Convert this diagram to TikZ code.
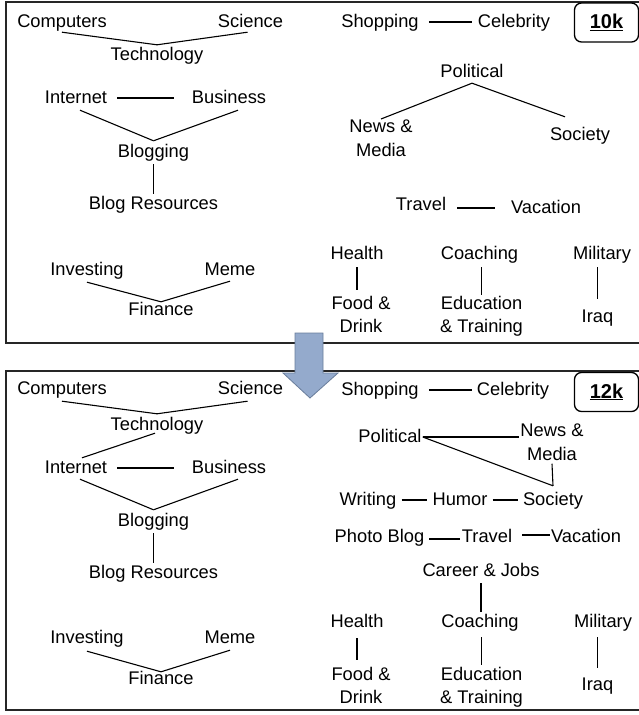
\documentclass[tikz,border=0pt]{standalone}
\usepackage{fontspec}
\setmainfont{Liberation Sans}
\definecolor{arrowfill}{RGB}{148,170,204}
\definecolor{arrowline}{RGB}{105,125,155}
\begin{document}
\begin{tikzpicture}[x=1pt,y=-1pt,
  lbl/.style={font=\fontsize{18.3}{23.5}\selectfont, inner sep=1pt, text height=14pt, text depth=4pt, anchor=base},
  ml/.style={font=\fontsize{18.3}{23.5}\selectfont, inner sep=1pt, align=center, anchor=north},
  box/.style={draw, rounded corners=7pt, line width=1.3pt, minimum width=64pt, minimum height=39pt, inner sep=0pt, font=\fontsize{20}{24}\selectfont\bfseries},
  frame/.style={draw=black!85, line width=1.3pt},
  conn/.style={draw, line width=1.1pt},
  blockarrow/.style={fill=arrowfill, draw=arrowline, line width=0.8pt}]
\useasboundingbox (0,0) rectangle (639,715);
% frames
\draw[frame] (6,2) rectangle (642,343);
\draw[frame] (6,371) rectangle (642,710);
% block arrow
\path[blockarrow] (295,333) -- (323,333) -- (323,373) -- (338,373) -- (310,398) -- (283,373) -- (295,373) -- cycle;

% ---------- top panel ----------
\node[lbl] (tComp) at (62,27) {Computers};
\node[lbl] (tSci) at (250.5,27) {Science};
\node[lbl] (tTech) at (157,60) {Technology};
\node[lbl] (tInt) at (76,103) {Internet};
\node[lbl] (tBus) at (229,103) {Business};
\node[lbl] (tBlog) at (153.5,157) {Blogging};
\node[lbl] (tBR) at (153.5,209) {Blog Resources};
\node[lbl] (tInv) at (87,275) {Investing};
\node[lbl] (tMeme) at (230,275) {Meme};
\node[lbl] (tFin) at (161,315) {Finance};
\node[lbl] (tShop) at (380,27) {Shopping};
\node[lbl] (tCeleb) at (514,27) {Celebrity};
\node[box] (tK) at (606.5,22.5) {\underline{10k}};
\node[lbl] (tPol) at (472,77) {Political};
\node[ml] (tNM) at (381,119) {News \&\\Media};
\node[lbl] (tSoc) at (580,140) {Society};
\node[lbl] (tTrav) at (421,210) {Travel};
\node[lbl] (tVac) at (546,213) {Vacation};
\node[lbl] (tHealth) at (357,259) {Health};
\node[ml] (tFD) at (361,295) {Food \&\\Drink};
\node[lbl] (tCoach) at (479.5,259) {Coaching};
\node[ml] (tEdu) at (481.5,295) {Education\\\& Training};
\node[lbl] (tMil) at (602,259) {Military};
\node[lbl] (tIraq) at (597.5,322) {Iraq};

\draw[conn] (tComp.south) -- (tTech.north);
\draw[conn] ([xshift=-3pt]tSci.south) -- (tTech.north);
\draw[conn, shorten <=9pt, shorten >=17pt] (tInt.east) -- (tBus.west);
\draw[conn] ([xshift=4pt,yshift=-2pt]tInt.south) -- ([yshift=1pt]tBlog.north);
\draw[conn] ([xshift=9pt,yshift=-2pt]tBus.south) -- ([yshift=1pt]tBlog.north);
\draw[conn] ([yshift=-2pt]tBlog.south) -- (tBR.north);
\draw[conn] ([yshift=-2pt]tInv.south) -- ([yshift=-2pt]tFin.north);
\draw[conn] ([yshift=-1pt]tMeme.south) -- ([yshift=-2pt]tFin.north);
\draw[conn, shorten <=9pt, shorten >=5pt] (tShop.east) -- (tCeleb.west);
\draw[conn] ([yshift=-1pt]tPol.south) -- (tNM.north);
\draw[conn] ([yshift=-1pt]tPol.south) -- ([xshift=-15pt,yshift=8pt]tSoc.north);
\draw[conn, shorten <=10pt, shorten >=15pt] (tTrav.east |- tVac.west) -- (tVac.west);
\draw[conn, shorten <=3pt, shorten >=5pt] (tHealth.south) -- (tHealth.south |- tFD.north);
\draw[conn, shorten <=3pt] (tEdu.north |- tCoach.south) -- (tEdu.north);
\draw[conn, shorten <=3pt, shorten >=8pt] (tIraq.north |- tMil.south) -- (tIraq.north);

% ---------- bottom panel ----------
\node[lbl] (bComp) at (62,394) {Computers};
\node[lbl] (bSci) at (250.5,394) {Science};
\node[lbl] (bTech) at (157,430) {Technology};
\node[lbl] (bInt) at (76,473) {Internet};
\node[lbl] (bBus) at (229,473) {Business};
\node[lbl] (bBlog) at (153.5,526) {Blogging};
\node[lbl] (bBR) at (153.5,578) {Blog Resources};
\node[lbl] (bInv) at (87,643) {Investing};
\node[lbl] (bMeme) at (230,643) {Meme};
\node[lbl] (bFin) at (161,684) {Finance};
\node[lbl] (bShop) at (380,395) {Shopping};
\node[lbl] (bCeleb) at (513,395) {Celebrity};
\node[box] (bK) at (606.5,392) {\underline{12k}};
\node[lbl] (bPol) at (390,442) {Political};
\node[ml] (bNM) at (552,423) {News \&\\Media};
\node[lbl] (bWrit) at (368,505) {Writing};
\node[lbl] (bHum) at (460,505) {Humor};
\node[lbl] (bSoc) at (553,505) {Society};
\node[lbl] (bPB) at (379.5,542) {Photo Blog};
\node[lbl] (bTrav) at (487,542) {Travel};
\node[lbl] (bVac) at (586,542) {Vacation};
\node[lbl] (bCareer) at (481,576) {Career \& Jobs};
\node[lbl] (bHealth) at (357,627) {Health};
\node[lbl] (bCoach) at (480,627) {Coaching};
\node[lbl] (bMil) at (603,627) {Military};
\node[ml] (bFD) at (361,666) {Food \&\\Drink};
\node[ml] (bEdu) at (481.5,666) {Education\\\& Training};
\node[lbl] (bIraq) at (597.5,690) {Iraq};

\draw[conn] ([yshift=-2pt]bComp.south) -- ([yshift=1pt]bTech.north);
\draw[conn] ([xshift=-3pt,yshift=-2pt]bSci.south) -- ([yshift=1pt]bTech.north);
\draw[conn] ([xshift=-2pt,yshift=2pt]bTech.south) -- ([xshift=6pt]bInt.north);
\draw[conn, shorten <=9pt, shorten >=17pt] (bInt.east) -- (bBus.west);
\draw[conn] ([xshift=4pt,yshift=-1pt]bInt.south) -- ([yshift=1pt]bBlog.north);
\draw[conn] ([xshift=9pt,yshift=-1pt]bBus.south) -- ([yshift=1pt]bBlog.north);
\draw[conn] ([yshift=-2pt]bBlog.south) -- (bBR.north);
\draw[conn] ([yshift=-3pt]bInv.south) -- ([yshift=-3pt]bFin.north);
\draw[conn] ([yshift=-2pt]bMeme.south) -- ([yshift=-3pt]bFin.north);
\draw[conn, shorten <=9pt, shorten >=4pt] (bShop.east) -- (bCeleb.west);
\draw[conn] (bPol.east) -- (bPol.east -| bNM.west);
\draw[conn] (bPol.east) -- ([yshift=4pt]bSoc.north);
\draw[conn] ([yshift=-2pt]bNM.south) -- ([yshift=4pt]bSoc.north);
\draw[conn, shorten <=4pt, shorten >=4pt] (bWrit.east) -- (bHum.west);
\draw[conn, shorten <=4pt, shorten >=4pt] (bHum.east) -- (bSoc.west);
\draw[conn, shorten <=4pt, shorten >=1pt] ([yshift=-2pt]bPB.east) -- ([yshift=-2pt]bTrav.west);
\draw[conn, shorten <=9pt] ([yshift=2pt]bTrav.east) -- ([yshift=2pt]bVac.west);
\draw[conn, shorten <=2pt] (bCareer.south) -- (bCareer.south |- bCoach.north);
\draw[conn, shorten <=6pt, shorten >=6pt] (bHealth.south) -- (bHealth.south |- bFD.north);
\draw[conn, shorten <=5pt, shorten >=1pt] (bEdu.north |- bCoach.south) -- (bEdu.north);
\draw[conn, shorten <=5pt, shorten >=7pt] (bIraq.north |- bMil.south) -- (bIraq.north);
\end{tikzpicture}
\end{document}
